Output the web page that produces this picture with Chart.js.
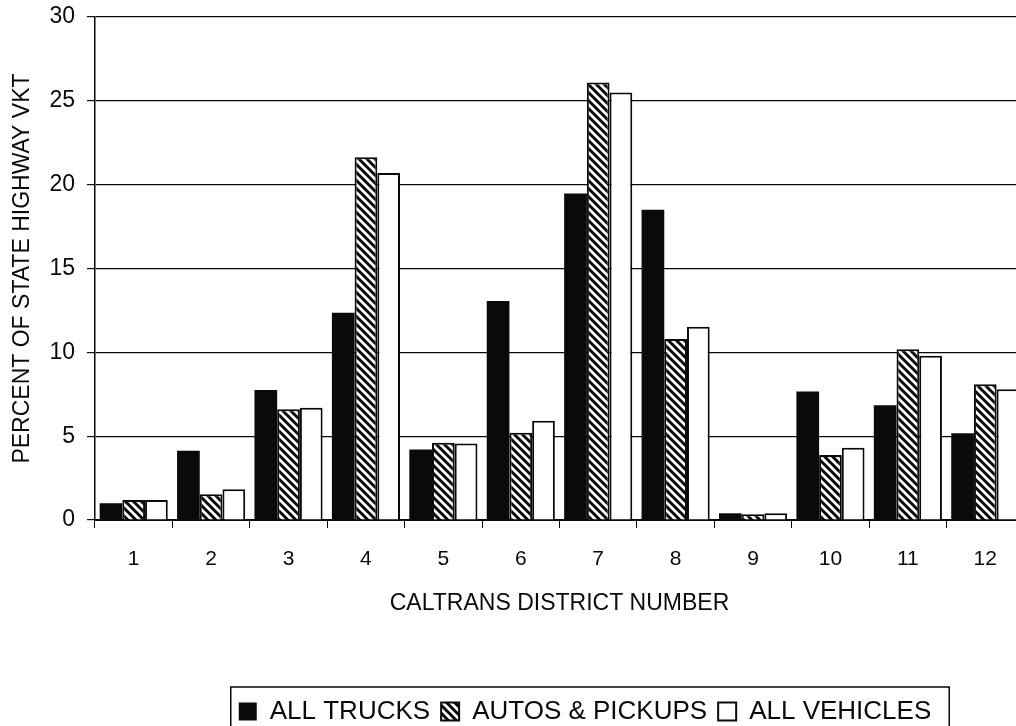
<!DOCTYPE html>
<html>
<head>
<meta charset="utf-8">
<script src="https://cdn.jsdelivr.net/npm/chart.js@4.4.1/dist/chart.umd.min.js"></script>
<style>
  html, body { margin: 0; padding: 0; background: #fff; overflow: hidden; }
  #wrap { width: 1040px; height: 726px; }
</style>
</head>
<body>
<div id="wrap"><canvas id="c" width="1040" height="726"></canvas></div>
<script>
const districts = ['1', '2', '3', '4', '5', '6', '7', '8', '9', '10', '11', '12'];
const allTrucks = [1.0, 4.13, 7.75, 12.36, 4.2, 13.06, 19.48, 18.5, 0.4, 7.67, 6.84, 5.17];
const autosPickups = [1.2, 1.53, 6.6, 21.63, 4.6, 5.2, 26.1, 10.8, 0.35, 3.88, 10.18, 8.1];
const allVehicles = [1.2, 1.83, 6.7, 20.7, 4.57, 5.92, 25.5, 11.53, 0.4, 4.31, 9.8, 7.8];
const seriesNames = ['ALL TRUCKS', 'AUTOS & PICKUPS', 'ALL VEHICLES'];
const yTicks = [0, 5, 10, 15, 20, 25, 30];
const yTitle = 'PERCENT OF STATE HIGHWAY VKT';
const xTitle = 'CALTRANS DISTRICT NUMBER';

const FONT = "'Liberation Sans', Arial, Helvetica, sans-serif";
const INK = '#0a0a0a';

function hatch() {
  const s = 8;
  const c = document.createElement('canvas');
  c.width = s; c.height = s;
  const g = c.getContext('2d');
  g.fillStyle = '#fff';
  g.fillRect(0, 0, s, s);
  g.strokeStyle = INK;
  g.lineWidth = 3;
  g.beginPath();
  for (const k of [-1, 0, 1]) {
    g.moveTo(-s, -s + k * s);
    g.lineTo(2 * s, 2 * s + k * s);
  }
  g.stroke();
  return document.getElementById('c').getContext('2d').createPattern(c, 'repeat');
}

const legendFrame = {
  id: 'legendFrame',
  afterLayout(chart) {
    const L = chart.legend;
    const dx = 73, dy = 8.6;
    L.left += dx; L.right += dx;
    L.top += dy; L.bottom += dy;
  },
  afterDraw(chart) {
    const L = chart.legend;
    const pad = L.options.labels.padding;
    const lw = L.lineWidths[0];
    const x0 = (L.left + pad + L.right - lw) / 2;
    const x1 = x0 + lw - pad;
    const ctx = chart.ctx;
    ctx.save();
    ctx.strokeStyle = INK;
    ctx.lineWidth = 1.5;
    ctx.strokeRect(x0 - 8, 687, (x1 - x0) + 26, 60);
    ctx.restore();
  }
};

const ctx = document.getElementById('c').getContext('2d');
new Chart(ctx, {
  type: 'bar',
  data: {
    labels: districts,
    datasets: [
      { label: seriesNames[0], data: allTrucks, backgroundColor: INK, borderColor: INK, borderWidth: 0 },
      { label: seriesNames[1], data: autosPickups, backgroundColor: hatch(), borderColor: INK, borderWidth: 2 },
      { label: seriesNames[2], data: allVehicles, backgroundColor: '#ffffff', borderColor: INK, borderWidth: 2 }
    ]
  },
  options: {
    responsive: false,
    animation: false,
    devicePixelRatio: 1,
    layout: { padding: { left: 0, right: 16, top: 17, bottom: 0 } },
    datasets: { bar: { categoryPercentage: 0.88, barPercentage: 1.0 } },
    plugins: {
      tooltip: { enabled: false },
      legend: {
        position: 'bottom',
        labels: {
          color: INK,
          font: { family: FONT, size: 26 },
          boxWidth: 18,
          boxHeight: 18,
          padding: 11
        }
      }
    },
    scales: {
      x: {
        grid: { offset: true, drawOnChartArea: false, drawTicks: true, tickLength: 8, color: INK, lineWidth: 1 },
        border: { display: true, color: INK, width: 2 },
        ticks: { color: INK, font: { family: FONT, size: 21 }, padding: 19, maxRotation: 0 },
        title: { display: true, text: xTitle, color: INK, font: { family: FONT, size: 23 }, padding: { top: 0, bottom: 62 } },
        afterFit(scale) {
          const lh = scale.chart.legend ? scale.chart.legend.height : 51.2;
          scale.height = (726 - lh) - 520;
        }
      },
      y: {
        min: 0,
        max: 30,
        afterBuildTicks(scale) { scale.ticks = yTicks.map(v => ({ value: v })); },
        grid: { color: INK, lineWidth: 1.2, tickLength: 8, drawTicks: true },
        border: { display: true, color: INK, width: 1.5 },
        ticks: { color: INK, font: { family: FONT, size: 23 }, padding: 12 },
        title: { display: true, text: yTitle, color: INK, font: { family: FONT, size: 23 }, padding: { top: 9, bottom: 0 } },
        afterFit(scale) {
          scale.width = 95;
          scale.paddingTop = 0;
          scale.paddingBottom = 0;
        }
      }
    }
  },
  plugins: [legendFrame]
});
</script>
</body>
</html>
